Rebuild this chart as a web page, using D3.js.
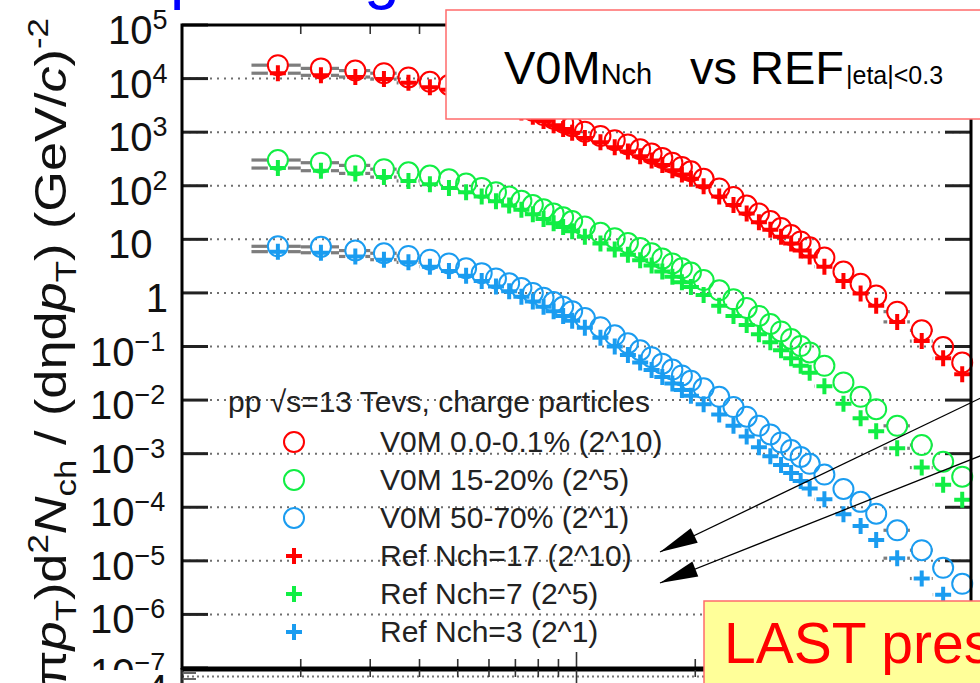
<!DOCTYPE html>
<html><head><meta charset="utf-8">
<script src="https://cdn.jsdelivr.net/npm/d3@7"></script>
<style>
html,body{margin:0;padding:0;background:#fff;overflow:hidden;}
svg{display:block;font-family:"Liberation Sans",Arial,Helvetica,sans-serif;}
</style></head><body>
<svg id="c" width="980" height="683"></svg>
<script>
// ---------------- data ----------------
const binEdges = [0.15,0.2,0.25,0.3,0.35,0.4,0.45,0.5,0.55,0.6,0.65,0.7,0.75,0.8,0.85,0.9,0.95,1.0,
  1.1,1.2,1.3,1.4,1.5,1.6,1.7,1.8,1.9,2.0,2.2,2.4,2.6,2.8,3.0,3.2,3.4,3.6,3.8,4.0,4.5,5.0,5.5,6.0,7.0,8.0,9.0,10.0];

const v0m_0_01 = [17800,15500,14100,12600,10500,8710,7590,6310,5250,4370,3630,3020,2510,2090,1780,1510,1290,1020,
  851,708,589,479,398,331,269,224,186,135,89.1,61.7,42.7,30.2,21.9,16.2,12.0,9.12,7.08,4.57,2.51,1.48,0.891,0.447,0.200,0.0977,0.0501];
const v0m_15_20 = [302,269,240,204,178,155,132,110,91.2,75.9,63.1,52.5,43.7,36.3,30.2,25.7,21.9,17.4,
  13.2,10.5,8.51,6.92,5.50,4.37,3.55,2.88,2.40,1.74,1.12,0.759,0.525,0.372,0.263,0.191,0.138,0.102,0.0776,0.0437,0.0214,0.0115,0.00676,0.00331,0.00145,0.000708,0.000372];
const v0m_50_70 = [7.41,7.24,6.17,5.50,4.90,4.17,3.55,2.88,2.34,1.86,1.51,1.23,1.00,0.813,0.676,0.550,0.457,0.339,
  0.229,0.162,0.115,0.0851,0.0631,0.0479,0.0372,0.0288,0.0229,0.0166,0.0115,0.00741,0.00490,0.00331,0.00229,0.00162,0.00117,0.000871,0.000646,0.000407,0.000219,0.000126,0.0000759,0.0000372,0.0000158,0.00000741,0.00000372];
const refNch17 = [12600,11500,10700,9770,8320,6920,6170,5130,4170,3470,2880,2340,1950,1620,1350,1150,977,776,
  646,525,437,355,295,245,195,162,135,97.7,63.1,43.7,30.2,20.9,15.1,11.2,8.32,6.17,4.79,3.09,1.66,0.977,0.575,0.288,0.126,0.0603,0.0302];
const refNch7 = [214,191,170,145,123,107,91.2,75.9,63.1,51.3,42.7,35.5,29.5,24.0,20.0,17.0,14.1,11.2,
  8.32,6.46,5.13,4.07,3.24,2.51,2.00,1.58,1.29,0.912,0.575,0.372,0.251,0.170,0.120,0.0851,0.0603,0.0437,0.0324,0.0182,0.00851,0.00457,0.00263,0.00126,0.000550,0.000263,0.000138];
const refNch3 = [5.89,5.62,4.79,4.17,3.72,3.09,2.57,2.09,1.66,1.32,1.07,0.851,0.692,0.550,0.457,0.372,0.302,0.224,
  0.145,0.100,0.0692,0.0501,0.0363,0.0269,0.0204,0.0155,0.0120,0.00832,0.00537,0.00331,0.00209,0.00132,0.000891,0.000617,0.000437,0.000309,0.000224,0.000141,0.0000741,0.0000447,0.0000245,0.0000112,0.00000468,0.00000234,0.00000112];

const seriesNames = ["V0M 0.0-0.1% (2^10)","V0M 15-20% (2^5)","V0M 50-70% (2^1)","Ref Nch=17 (2^10)","Ref Nch=7 (2^5)","Ref Nch=3 (2^1)"];
const seriesColors = ["#ff0000","#11ee44","#1a9cf0","#ff0000","#11ee44","#1a9cf0"];
const seriesMarkers = ["circle","circle","circle","plus","plus","plus"];
const seriesValues = [v0m_0_01, v0m_15_20, v0m_50_70, refNch17, refNch7, refNch3];

const yTickExponents = [-7,-6,-5,-4,-3,-2,-1,0,1,2,3,4,5];
const legendHeader = "pp \u221As=13 Tevs, charge particles";

// ---------------- layout ----------------
const svg = d3.select("#c");
const L=182, R=971, T=25, B=668;
const x = d3.scaleLog().domain([0.1,10]).range([L,R]);
const y = d3.scaleLog().domain([1e-7,1e5]).range([B,T]);

// slide title remnants (blue, cut at top)
svg.append("text").attr("x",170).attr("y",-3).attr("font-size",64).attr("fill","#0000ff").text("p");
svg.append("text").attr("x",364).attr("y",-3).attr("font-size",64).attr("fill","#0000ff").text("g");

// grid lines (dotted) at decades
const g = svg.append("g");
yTickExponents.slice(1,-1).forEach(e=>{
  g.append("line").attr("x1",L).attr("x2",R).attr("y1",y(Math.pow(10,e))).attr("y2",y(Math.pow(10,e)))
   .attr("stroke","#6f6f6f").attr("stroke-width",2).attr("stroke-dasharray","2,5");
});

// y ticks (left and right)
const yt = y.ticks();
yt.forEach(v=>{
  const major = Math.abs(Math.log10(v) - Math.round(Math.log10(v))) < 1e-6;
  const len = major ? 26 : 15;
  const col = major ? "#222" : "#6a6a6a";
  const sw = major ? 3 : 2.2;
  g.append("line").attr("x1",L).attr("x2",L+len).attr("y1",y(v)).attr("y2",y(v)).attr("stroke",col).attr("stroke-width",sw);
  g.append("line").attr("x1",R).attr("x2",R-len).attr("y1",y(v)).attr("y2",y(v)).attr("stroke",col).attr("stroke-width",sw);
});
// x ticks (bottom and top)
const xt = x.ticks();
xt.forEach(v=>{
  const major = Math.abs(Math.log10(v) - Math.round(Math.log10(v))) < 1e-6;
  const len = major ? 16 : 9;
  g.append("line").attr("x1",x(v)).attr("x2",x(v)).attr("y1",B).attr("y2",B-len).attr("stroke","#333").attr("stroke-width",1.6);
  g.append("line").attr("x1",x(v)).attr("x2",x(v)).attr("y1",T).attr("y2",T+len).attr("stroke","#333").attr("stroke-width",1.6);
});

// y tick labels
yTickExponents.forEach(e=>{
  const ty = y(Math.pow(10,e));
  if (e===0) {
    svg.append("text").attr("x",168).attr("y",ty+19).attr("text-anchor","end").attr("font-size",40).attr("fill","#111").text("1");
  } else if (e===1) {
    svg.append("text").attr("x",108).attr("y",ty+19).attr("font-size",40).attr("fill","#111").text("10");
  } else {
    const t = svg.append("text").attr("x", e>0?108:90).attr("y",ty+19).attr("font-size",40).attr("fill","#111");
    t.append("tspan").text("10");
    t.append("tspan").attr("dy",-15).attr("font-size",27).text(e>0? String(e) : "\u2212"+String(-e));
  }
});

// grey x-error bars (bin width), interrupted by the marker
const centers = binEdges.slice(0,-1).map((e,i)=>(e+binEdges[i+1])/2);
const gap = 10;
seriesValues.forEach(vals=>{
  const grp = svg.append("g");
  vals.forEach((v,i)=>{
    const cx = x(centers[i]), lo = x(binEdges[i]), hi = x(binEdges[i+1]), yy = y(v);
    if (cx-gap > lo) grp.append("line").attr("x1",lo).attr("x2",cx-gap).attr("y1",yy).attr("y2",yy)
      .attr("stroke","#7d7d7d").attr("stroke-width",3.2);
    if (hi > cx+gap) grp.append("line").attr("x1",cx+gap).attr("x2",hi).attr("y1",yy).attr("y2",yy)
      .attr("stroke","#7d7d7d").attr("stroke-width",3.2);
  });
});

// markers
const plusPath = "M-8,0H8M0,-8V8";
[0,3,1,4,2,5].forEach(si=>{
  const vals = seriesValues[si];
  const grp = svg.append("g");
  vals.forEach((v,i)=>{
    if (seriesMarkers[si]==="circle") {
      grp.append("circle").attr("cx",x(centers[i])).attr("cy",y(v)).attr("r",10)
        .attr("fill","none").attr("stroke",seriesColors[si]).attr("stroke-width",2);
    } else {
      grp.append("path").attr("d",plusPath).attr("transform",`translate(${x(centers[i])},${y(v)})`)
        .attr("stroke",seriesColors[si]).attr("stroke-width",4).attr("fill","none");
    }
  });
});

// frame
svg.append("rect").attr("x",L).attr("y",T).attr("width",R-L).attr("height",B-T)
  .attr("fill","none").attr("stroke","#000").attr("stroke-width",3);

// lower pad (partially visible)
svg.append("rect").attr("x",88).attr("y",670).attr("width",892).attr("height",20).attr("fill","#fff");
svg.append("line").attr("x1",L).attr("x2",R).attr("y1",670).attr("y2",670).attr("stroke","#000").attr("stroke-width",3);
svg.append("line").attr("x1",L).attr("x2",R).attr("y1",676.5).attr("y2",676.5).attr("stroke","#777").attr("stroke-width",2).attr("stroke-dasharray","2,3");
svg.append("line").attr("x1",L).attr("x2",L).attr("y1",668).attr("y2",683).attr("stroke","#000").attr("stroke-width",3);
[673,679].forEach(yy=>svg.append("line").attr("x1",L).attr("x2",L+14).attr("y1",yy).attr("y2",yy).attr("stroke","#666").attr("stroke-width",2));
xt.forEach(v=>{
  const major = Math.abs(Math.log10(v) - Math.round(Math.log10(v))) < 1e-6;
  svg.append("line").attr("x1",x(v)).attr("x2",x(v)).attr("y1",670).attr("y2",major?683:677).attr("stroke","#333").attr("stroke-width",1.6);
});
svg.append("text").attr("x",168).attr("y",703).attr("text-anchor","end").attr("font-size",40).attr("fill","#111").text("4");

// y axis title
const yt2 = svg.append("text").attr("transform","translate(66,18) rotate(-90)").attr("text-anchor","end")
  .attr("font-size",45).attr("fill","#111")
  .attr("textLength",715).attr("lengthAdjust","spacingAndGlyphs");
yt2.append("tspan").text("(2\u03C0");
yt2.append("tspan").attr("font-style","italic").text("p");
yt2.append("tspan").attr("font-size",30).attr("dy",10).text("T");
yt2.append("tspan").attr("dy",-10).text(")d");
yt2.append("tspan").attr("font-size",30).attr("dy",-18).text("2");
yt2.append("tspan").attr("font-style","italic").attr("dy",18).text("N");
yt2.append("tspan").attr("font-size",30).attr("dy",10).text("ch");
yt2.append("tspan").attr("dy",-10).text(" / (d\u03B7d");
yt2.append("tspan").attr("font-style","italic").text("p");
yt2.append("tspan").attr("font-size",30).attr("dy",10).text("T");
yt2.append("tspan").attr("dy",-10).text(") (GeV/");
yt2.append("tspan").attr("font-style","italic").text("c");
yt2.append("tspan").text(")");
yt2.append("tspan").attr("font-size",30).attr("dy",-18).text("-2");

// legend
svg.append("text").attr("x",228).attr("y",412).attr("font-size",30).attr("fill","#222").text(legendHeader);
const legY = [442,480,518,556,594,632];
seriesNames.forEach((nm,i)=>{
  if (seriesMarkers[i]==="circle") {
    svg.append("circle").attr("cx",294).attr("cy",legY[i]).attr("r",10).attr("fill","none")
      .attr("stroke",seriesColors[i]).attr("stroke-width",2);
  } else {
    svg.append("path").attr("d",plusPath).attr("transform",`translate(294,${legY[i]})`)
      .attr("stroke",seriesColors[i]).attr("stroke-width",4);
  }
  svg.append("text").attr("x",380).attr("y",legY[i]+10).attr("font-size",30).attr("fill","#222").text(nm);
});

// annotation box (title)
svg.append("rect").attr("x",446).attr("y",10).attr("width",560).attr("height",109)
  .attr("fill","#fff").attr("stroke","#ff6b6b").attr("stroke-width",1.5);
const tt = svg.append("text").attr("y",84).attr("fill","#000");
tt.append("tspan").attr("x",504).attr("font-size",47).text("V0M");
tt.append("tspan").attr("font-size",29).text("Nch");
tt.append("tspan").attr("x",690).attr("font-size",47).text("vs");
tt.append("tspan").attr("x",750).attr("font-size",47).text("REF");
tt.append("tspan").attr("x",846).attr("font-size",25).text("|eta|<0.3");

// arrows
function arrow(x1,y1,x2,y2){
  svg.append("line").attr("x1",x1).attr("y1",y1).attr("x2",x2).attr("y2",y2).attr("stroke","#000").attr("stroke-width",1.3);
  const a = Math.atan2(y2-y1,x2-x1), len=38, w=8;
  const bx = x2 - len*Math.cos(a), by = y2 - len*Math.sin(a);
  const px = -Math.sin(a)*w, py = Math.cos(a)*w;
  svg.append("path").attr("d",`M${x2},${y2}L${bx+px},${by+py}L${bx-px},${by-py}Z`).attr("fill","#000");
}
arrow(985,396,660,552);
arrow(985,454,660,583);

// yellow box
svg.append("rect").attr("x",704).attr("y",601).attr("width",300).attr("height",100)
  .attr("fill","#ffff99").attr("stroke","#ff6b6b").attr("stroke-width",1.5);
svg.append("text").attr("x",724).attr("y",663).attr("font-size",57).attr("fill","#ff0000").text("LAST presentation");
</script>
</body></html>
